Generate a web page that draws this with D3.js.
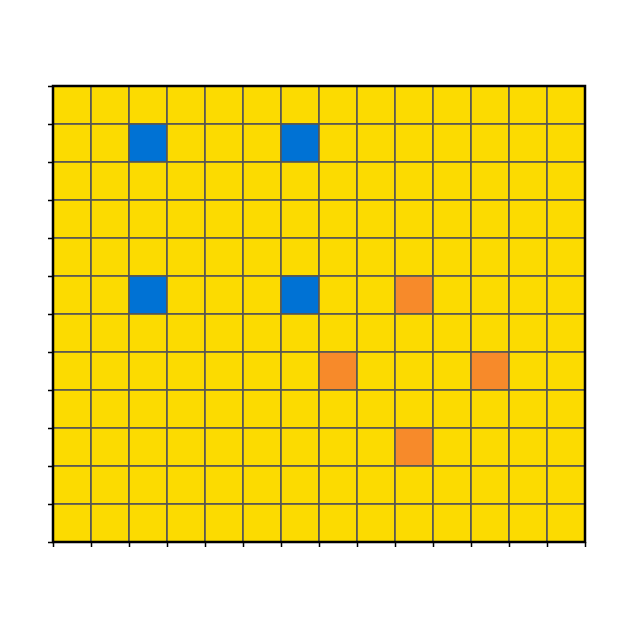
<!DOCTYPE html>
<html><head><meta charset="utf-8">
<script src="https://cdn.jsdelivr.net/npm/d3@7"></script>
<style>body{margin:0;background:#fff}</style>
</head><body>
<script>
const nCols = 14, nRows = 12;
const colIdx = d3.range(nCols);
const rowIdx = d3.range(nRows);
// cells with categories (col,row from top)
const blueCells = [[2,1],[6,1],[2,5],[6,5]];
const orangeCells = [[9,5],[7,7],[11,7],[9,9]];
const colors = {base:"#fcdb00", blue:"#0072d4", orange:"#f78a2a"};

const W=629,H=629, L=53, R=585, T=86, B=542;
const svg=d3.select("body").append("svg").attr("width",W).attr("height",H);
const x=d3.scaleLinear().domain([0,nCols]).range([L,R]);
const y=d3.scaleLinear().domain([0,nRows]).range([T,B]);

const cells=[];
rowIdx.forEach(r=>colIdx.forEach(c=>{
  let cat="base";
  if(blueCells.some(d=>d[0]===c&&d[1]===r)) cat="blue";
  if(orangeCells.some(d=>d[0]===c&&d[1]===r)) cat="orange";
  cells.push({c,r,cat});
}));
svg.append("g").selectAll("rect").data(cells).join("rect")
  .attr("x",d=>x(d.c)).attr("y",d=>y(d.r))
  .attr("width",x(1)-x(0)).attr("height",y(1)-y(0))
  .attr("fill",d=>colors[d.cat])
  .attr("stroke","#555").attr("stroke-width",1.6);

svg.append("rect").attr("x",L).attr("y",T).attr("width",R-L).attr("height",B-T)
  .attr("fill","none").attr("stroke","#000").attr("stroke-width",2.5);

const xAxis=svg.append("g").attr("transform",`translate(0,${B})`)
  .call(d3.axisBottom(x).tickValues(d3.range(nCols+1)).tickFormat("").tickSize(5).tickSizeOuter(0));
const yAxis=svg.append("g").attr("transform",`translate(${L},0)`)
  .call(d3.axisLeft(y).tickValues(d3.range(nRows+1)).tickFormat("").tickSize(5).tickSizeOuter(0));
[xAxis,yAxis].forEach(a=>{
  a.select(".domain").remove();
  a.selectAll(".tick line").attr("stroke","#000").attr("stroke-width",1.5);
});
</script>
</body></html>
